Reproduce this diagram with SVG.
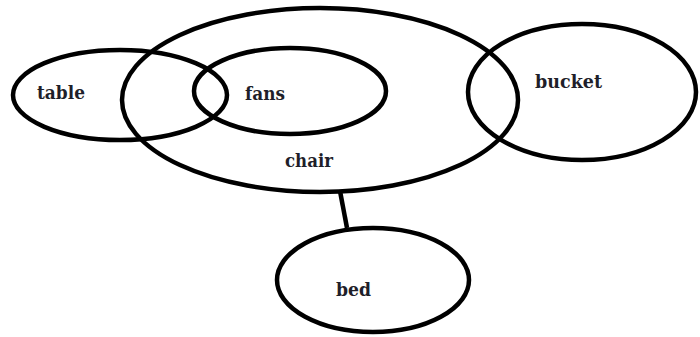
<svg xmlns="http://www.w3.org/2000/svg" width="700" height="337" viewBox="0 0 700 337">
<style>
.n{fill:none;stroke:#000;stroke-width:4.5}
.t{font-family:"DejaVu Serif","Liberation Serif",serif;font-weight:bold;font-size:18px;fill:#1f1f2a}
</style>
<rect width="700" height="337" fill="#fff"/>
<g id="connectors">
<line x1="340" y1="191" x2="347" y2="228" stroke="#000" stroke-width="4.5"/>
</g>
<g id="chair"><ellipse class="n" cx="320" cy="100" rx="198" ry="92"/><text class="t" x="285" y="167" textLength="48" lengthAdjust="spacingAndGlyphs">chair</text></g>
<g id="table"><ellipse class="n" cx="120" cy="95" rx="107" ry="45"/><text class="t" x="37" y="99" textLength="48" lengthAdjust="spacingAndGlyphs">table</text></g>
<g id="fans"><ellipse class="n" cx="290" cy="91" rx="96" ry="43"/><text class="t" x="245" y="100" textLength="40" lengthAdjust="spacingAndGlyphs">fans</text></g>
<g id="bucket"><ellipse class="n" cx="582" cy="92" rx="114" ry="68"/><text class="t" x="535" y="88" textLength="67" lengthAdjust="spacingAndGlyphs">bucket</text></g>
<g id="bed"><ellipse class="n" cx="373" cy="280" rx="96" ry="52"/><text class="t" x="336" y="296" textLength="35" lengthAdjust="spacingAndGlyphs">bed</text></g>
</svg>
